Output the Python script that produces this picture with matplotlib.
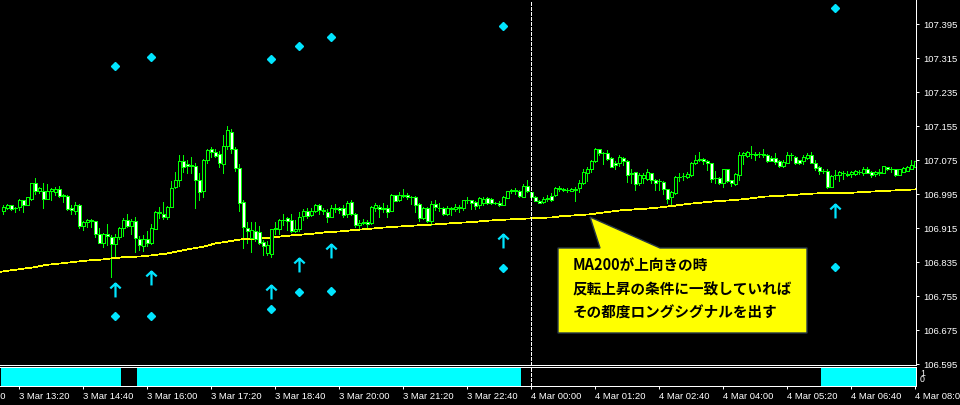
import numpy as np
import matplotlib
matplotlib.use("Agg")
import matplotlib.pyplot as plt
from matplotlib.path import Path
from matplotlib.patches import Polygon

plt.rcParams['font.family'] = ['Liberation Sans', 'Noto Sans CJK JP']

# USDJPY M5 candles (3 Mar 13:00 -> 4 Mar 08:00)
opens = [106.954, 106.962, 106.968, 106.961, 106.964, 106.980, 106.970, 106.984, 107.020, 107.001,
         107.001, 106.984, 107.001, 107.000, 107.007, 106.992, 106.990, 106.962, 106.956, 106.969,
         106.920, 106.928, 106.933, 106.931, 106.902, 106.880, 106.900, 106.895, 106.877, 106.893,
         106.914, 106.934, 106.920, 106.931, 106.889, 106.873, 106.889, 106.879, 106.913, 106.952,
         106.949, 106.942, 106.965, 107.011, 107.028, 107.072, 107.065, 107.062, 107.061, 107.029,
         107.003, 107.075, 107.100, 107.095, 107.089, 107.066, 107.108, 107.142, 107.102, 107.057,
         106.977, 106.915, 106.891, 106.907, 106.905, 106.882, 106.857, 106.855, 106.913, 106.913,
         106.934, 106.938, 106.934, 106.909, 106.912, 106.944, 106.955, 106.945, 106.954, 106.968,
         106.957, 106.953, 106.942, 106.959, 106.961, 106.962, 106.947, 106.976, 106.949, 106.921,
         106.927, 106.929, 106.926, 106.962, 106.965, 106.960, 106.962, 106.956, 106.992, 106.982,
         106.991, 106.993, 106.989, 106.987, 106.971, 106.938, 106.961, 106.932, 106.971, 106.963,
         106.962, 106.948, 106.960, 106.959, 106.963, 106.963, 106.980, 106.981, 106.976, 106.968,
         106.973, 106.986, 106.984, 106.975, 106.975, 106.970, 106.986, 107.002, 107.004, 107.003,
         106.989, 107.014, 107.000, 106.989, 106.979, 106.976, 106.984, 106.990, 106.993, 107.008,
         107.006, 107.005, 107.003, 107.006, 107.008, 107.020, 107.044, 107.055, 107.072, 107.100,
         107.092, 107.092, 107.080, 107.067, 107.067, 107.079, 107.073, 107.044, 107.046, 107.020,
         107.032, 107.031, 107.044, 107.029, 107.025, 107.024, 107.006, 106.989, 106.997, 107.036,
         107.037, 107.036, 107.039, 107.067, 107.076, 107.077, 107.073, 107.067, 107.032, 107.032,
         107.022, 107.053, 107.028, 107.018, 107.039, 107.087, 107.084, 107.089, 107.087, 107.089,
         107.090, 107.086, 107.079, 107.079, 107.073, 107.062, 107.069, 107.086, 107.081, 107.075,
         107.073, 107.080, 107.086, 107.069, 107.058, 107.050, 107.050, 107.012, 107.039, 107.040,
         107.045, 107.041, 107.041, 107.042, 107.047, 107.045, 107.053, 107.047, 107.041, 107.045,
         107.045, 107.058, 107.053, 107.053, 107.040, 107.047, 107.050, 107.055, 107.059]
highs = [106.968, 106.971, 106.970, 106.965, 106.983, 106.982, 106.989, 107.022, 107.032, 107.011,
         107.020, 107.018, 107.010, 107.012, 107.014, 106.995, 106.992, 106.968, 106.976, 106.971,
         106.931, 106.937, 106.937, 106.932, 106.916, 106.904, 106.924, 106.899, 106.902, 106.918,
         106.938, 106.948, 106.937, 106.942, 106.897, 106.898, 106.907, 106.924, 106.956, 106.965,
         106.976, 106.967, 107.026, 107.047, 107.086, 107.086, 107.075, 107.081, 107.069, 107.044,
         107.078, 107.100, 107.105, 107.100, 107.097, 107.134, 107.155, 107.147, 107.106, 107.066,
         106.981, 106.928, 106.929, 106.929, 106.920, 106.887, 106.885, 106.913, 106.928, 106.937,
         106.949, 106.942, 106.948, 106.934, 106.953, 106.960, 106.961, 106.963, 106.971, 106.971,
         106.962, 106.959, 106.968, 106.971, 106.965, 106.968, 106.978, 106.981, 106.951, 106.934,
         106.936, 106.934, 106.967, 106.973, 106.968, 106.973, 106.968, 106.995, 106.993, 107.000,
         107.007, 106.997, 106.990, 106.990, 106.975, 106.964, 106.964, 106.978, 106.982, 106.973,
         106.965, 106.967, 106.965, 106.971, 106.968, 106.982, 106.989, 106.982, 106.978, 106.989,
         106.987, 106.989, 106.986, 106.976, 106.978, 106.990, 107.003, 107.006, 107.008, 107.004,
         107.018, 107.028, 107.000, 106.990, 106.982, 106.987, 106.992, 106.997, 107.012, 107.014,
         107.008, 107.008, 107.009, 107.011, 107.028, 107.053, 107.059, 107.076, 107.103, 107.102,
         107.095, 107.098, 107.081, 107.072, 107.087, 107.081, 107.075, 107.055, 107.047, 107.044,
         107.044, 107.053, 107.045, 107.031, 107.031, 107.026, 107.007, 107.003, 107.037, 107.044,
         107.044, 107.047, 107.070, 107.087, 107.094, 107.079, 107.075, 107.069, 107.048, 107.034,
         107.055, 107.055, 107.029, 107.044, 107.095, 107.094, 107.097, 107.109, 107.094, 107.095,
         107.100, 107.089, 107.084, 107.091, 107.076, 107.075, 107.094, 107.091, 107.084, 107.076,
         107.087, 107.091, 107.094, 107.075, 107.061, 107.055, 107.055, 107.039, 107.051, 107.048,
         107.050, 107.050, 107.050, 107.051, 107.051, 107.058, 107.058, 107.050, 107.050, 107.053,
         107.062, 107.059, 107.058, 107.055, 107.055, 107.059, 107.062, 107.075, 107.073]
lows = [106.948, 106.959, 106.957, 106.953, 106.957, 106.953, 106.968, 106.982, 106.995, 106.998,
        106.963, 106.983, 106.981, 106.993, 106.989, 106.977, 106.957, 106.947, 106.949, 106.914,
        106.910, 106.917, 106.917, 106.895, 106.879, 106.871, 106.875, 106.800, 106.849, 106.890,
        106.896, 106.918, 106.902, 106.859, 106.863, 106.862, 106.873, 106.877, 106.912, 106.939,
        106.937, 106.937, 106.964, 107.008, 107.014, 107.047, 107.044, 107.044, 106.961, 106.981,
        106.987, 107.067, 107.083, 107.081, 107.059, 107.045, 107.102, 107.091, 107.050, 106.956,
        106.867, 106.879, 106.859, 106.885, 106.877, 106.851, 106.851, 106.846, 106.902, 106.902,
        106.922, 106.910, 106.906, 106.905, 106.909, 106.934, 106.938, 106.943, 106.953, 106.949,
        106.949, 106.930, 106.940, 106.953, 106.951, 106.942, 106.942, 106.946, 106.918, 106.910,
        106.924, 106.914, 106.924, 106.956, 106.942, 106.953, 106.940, 106.954, 106.978, 106.979,
        106.987, 106.984, 106.971, 106.953, 106.932, 106.937, 106.930, 106.921, 106.957, 106.956,
        106.945, 106.946, 106.946, 106.956, 106.953, 106.957, 106.975, 106.959, 106.960, 106.962,
        106.970, 106.971, 106.971, 106.971, 106.967, 106.968, 106.985, 106.997, 106.995, 106.989,
        106.987, 107.000, 106.987, 106.978, 106.973, 106.973, 106.979, 106.979, 106.990, 107.003,
        107.001, 107.000, 107.001, 106.979, 107.000, 107.018, 107.026, 107.047, 107.070, 107.087,
        107.066, 107.076, 107.058, 107.053, 107.061, 107.063, 107.024, 107.022, 107.004, 107.016,
        107.020, 107.028, 107.022, 107.004, 107.004, 106.995, 106.973, 106.970, 106.995, 107.026,
        107.028, 107.033, 107.037, 107.066, 107.072, 107.066, 107.051, 107.023, 107.020, 107.018,
        107.012, 107.024, 107.014, 107.016, 107.028, 107.066, 107.083, 107.080, 107.075, 107.083,
        107.083, 107.070, 107.072, 107.066, 107.059, 107.059, 107.067, 107.076, 107.066, 107.066,
        107.066, 107.078, 107.067, 107.051, 107.042, 107.044, 107.008, 107.011, 107.031, 107.025,
        107.031, 107.037, 107.034, 107.040, 107.042, 107.039, 107.044, 107.036, 107.037, 107.040,
        107.044, 107.051, 107.047, 107.037, 107.040, 107.046, 107.048, 107.054, 107.058]
closes = [106.964, 106.968, 106.960, 106.962, 106.981, 106.970, 106.987, 107.020, 107.003, 107.008,
          106.984, 107.001, 107.006, 107.007, 106.991, 106.990, 106.960, 106.957, 106.968, 106.920,
          106.928, 106.934, 106.931, 106.902, 106.880, 106.902, 106.896, 106.877, 106.895, 106.916,
          106.934, 106.920, 106.931, 106.891, 106.875, 106.889, 106.879, 106.914, 106.953, 106.950,
          106.940, 106.964, 107.008, 107.029, 107.072, 107.059, 107.062, 107.064, 107.028, 107.000,
          107.076, 107.098, 107.093, 107.085, 107.067, 107.108, 107.145, 107.100, 107.057, 106.975,
          106.918, 106.907, 106.910, 106.890, 106.880, 106.873, 106.875, 106.913, 106.916, 106.935,
          106.933, 106.931, 106.909, 106.913, 106.942, 106.955, 106.944, 106.954, 106.968, 106.957,
          106.954, 106.942, 106.961, 106.961, 106.957, 106.946, 106.975, 106.948, 106.921, 106.927,
          106.928, 106.924, 106.964, 106.968, 106.960, 106.961, 106.953, 106.992, 106.979, 106.992,
          106.992, 106.988, 106.988, 106.969, 106.938, 106.961, 106.932, 106.971, 106.964, 106.961,
          106.948, 106.962, 106.961, 106.964, 106.964, 106.981, 106.981, 106.975, 106.967, 106.986,
          106.984, 106.975, 106.973, 106.974, 106.969, 106.987, 107.002, 107.004, 107.003, 106.991,
          107.014, 107.003, 106.989, 106.979, 106.975, 106.984, 106.985, 106.982, 107.008, 107.007,
          107.004, 107.004, 107.007, 107.004, 107.020, 107.047, 107.055, 107.073, 107.102, 107.091,
          107.091, 107.078, 107.059, 107.064, 107.083, 107.072, 107.040, 107.043, 107.018, 107.040,
          107.039, 107.047, 107.028, 107.022, 107.026, 107.006, 106.984, 107.000, 107.034, 107.036,
          107.038, 107.041, 107.067, 107.075, 107.077, 107.072, 107.067, 107.031, 107.033, 107.022,
          107.053, 107.026, 107.020, 107.042, 107.086, 107.092, 107.094, 107.090, 107.088, 107.090,
          107.087, 107.073, 107.073, 107.071, 107.061, 107.071, 107.086, 107.087, 107.067, 107.069,
          107.083, 107.087, 107.069, 107.056, 107.050, 107.049, 107.012, 107.037, 107.039, 107.047,
          107.044, 107.040, 107.047, 107.050, 107.047, 107.055, 107.045, 107.040, 107.047, 107.046,
          107.061, 107.053, 107.054, 107.040, 107.053, 107.057, 107.058, 107.063, 107.072]

# MA200 (read at bar positions)
ma_idx = [-0.8, 4, 8, 10.4, 14.7, 18.4, 21.7, 24.9, 27.4, 30.9, 34.2, 37.4, 40.9, 44.2, 46.2,
          49.9, 53.2, 56.7, 59.2, 62.4, 65.7, 69.2, 72.4, 76.7, 80.7, 84.2, 87.4, 91.4, 94.9,
          98.2, 104.9, 108.9, 113.2, 117.4, 120.7, 123.9, 128.2, 132.4, 137.2, 139.7, 143.2,
          146.4, 148.9, 151.4, 154.7, 158.2, 161.4, 164.7, 168.2, 171.4, 174.7, 178.2, 181.4,
          185.4, 187.9, 190.4, 192.9, 196.4, 200.4, 204.7, 208.9, 212.2, 215.4, 219.7, 223.9, 228.2]
ma_val = [106.812, 106.818, 106.823, 106.828, 106.832, 106.836, 106.839, 106.841, 106.844, 106.847,
          106.848, 106.851, 106.855, 106.861, 106.865, 106.871, 106.879, 106.884, 106.888, 106.890,
          106.891, 106.895, 106.898, 106.901, 106.905, 106.907, 106.910, 106.913, 106.916, 106.918,
          106.922, 106.924, 106.927, 106.929, 106.932, 106.934, 106.936, 106.938, 106.940, 106.943,
          106.945, 106.947, 106.950, 106.953, 106.957, 106.959, 106.961, 106.964, 106.968, 106.972,
          106.975, 106.978, 106.980, 106.983, 106.986, 106.989, 106.990, 106.992, 106.995, 106.997,
          106.997, 106.998, 107.000, 107.002, 107.004, 107.006]

# long signals
sig_idx = [28, 37, 67, 74, 82, 125, 208]
arrow_val = [106.770, 106.797, 106.764, 106.828, 106.860, 106.884, 106.954]
low_dot = [106.708, 106.708, 106.724, 106.764, 106.767, 106.821, 106.823]
high_dot = [107.296, 107.317, 107.313, 107.343, 107.364, 107.390, 107.433]

# sub window state (1 = MA200 rising)
seg_start = [0, 30, 34, 130, 205]
seg_end = [29, 33, 129, 204, 228]
seg_val = [1, 0, 1, 0, 1]

price_ticks = [106.595, 106.675, 106.755, 106.835, 106.915, 106.995,
               107.075, 107.155, 107.235, 107.315, 107.395]
time_idx = [-12, 4, 20, 36, 52, 68, 84, 100, 116, 132, 148, 164, 180, 196, 212, 228]
time_labels = ["3 Mar 12:00", "3 Mar 13:20", "3 Mar 14:40", "3 Mar 16:00", "3 Mar 17:20",
               "3 Mar 18:40", "3 Mar 20:00", "3 Mar 21:20", "3 Mar 22:40", "4 Mar 00:00",
               "4 Mar 01:20", "4 Mar 02:40", "4 Mar 04:00", "4 Mar 05:20", "4 Mar 06:40",
               "4 Mar 08:00"]
day_break = 132

note = ["MA200が上向きの時", "反転上昇の条件に一致していれば", "その都度ロングシグナルを出す"]

W, H = 960, 405
fig = plt.figure(figsize=(W / 100, H / 100), dpi=100, facecolor="black")
ax = fig.add_axes([0, (H - 365) / H, 916 / W, 365 / H], facecolor="black")
ax2 = fig.add_axes([0, (H - 386) / H, 916 / W, 19 / H], facecolor="black")

green = "#00ff00"
aqua = "#00ffff"
sig_col = "#00e5ff"
lw1 = 0.72
tfont = 6.8

o = np.array(opens)
c = np.array(closes)
x = np.arange(len(o))
ax.vlines(x, lows, highs, color=green, lw=lw1, zorder=2, antialiased=False)
fill = np.where(c >= o, "black", "white")
ax.bar(x, np.abs(c - o), bottom=np.minimum(o, c), width=0.75, color=fill,
       edgecolor=green, linewidth=lw1, zorder=3, antialiased=False)

ax.plot(ma_idx, ma_val, color="#ffff00", lw=0.55, zorder=2, antialiased=False)

arrow = Path([(0, -1), (0, 1), (-0.75, 0.3), (0, 1), (0.75, 0.3)],
             [Path.MOVETO, Path.LINETO, Path.MOVETO, Path.LINETO, Path.LINETO])
ax.plot(sig_idx, arrow_val, ls="none", marker=arrow, ms=10, mew=1.6,
        mec=sig_col, mfc="none", zorder=4)
ax.plot(sig_idx, low_dot, ls="none", marker="D", ms=4, color=sig_col, zorder=4)
ax.plot(sig_idx, high_dot, ls="none", marker="D", ms=4, color=sig_col, zorder=4)

ax.set_xlim(-0.825, 228.175)
ax.set_ylim(107.4515 - 365 * 0.0023529, 107.4515)
ax2.set_xlim(ax.get_xlim())
ax2.set_ylim(0, 1)

for a in (ax, ax2):
    a.axvline(day_break, color="white", lw=lw1, dashes=(3, 2), zorder=5, antialiased=False)
    for s in ("top", "left"):
        a.spines[s].set_visible(False)
    for s in ("bottom", "right"):
        a.spines[s].set_color("white")
        a.spines[s].set_linewidth(lw1)
ax2.spines["top"].set_visible(True)
ax2.spines["top"].set_color("white")
ax2.spines["top"].set_linewidth(lw1)

ax.set_xticks([])
ax.yaxis.tick_right()
ax.set_yticks(price_ticks)
ax.set_yticklabels([f"{p:.3f}" for p in price_ticks])
ax.tick_params(axis="y", colors="white", length=2, width=lw1, pad=3, labelsize=tfont)

for s, e, v in zip(seg_start, seg_end, seg_val):
    idx = np.arange(s, e + 1)
    ax2.bar(idx, [v] * len(idx), width=1.0, color=aqua, linewidth=0, zorder=1)
ax2.set_yticks([])
ax2.set_xticks([t for t in time_idx if t >= 0])
ax2.set_xticklabels([])
ax2.tick_params(axis="x", colors="white", length=2.2, width=lw1)
for t, lab in zip(time_idx, time_labels):
    ax2.text(t, -0.55, lab, transform=ax2.get_xaxis_transform(), ha="left",
             va="center", color="white", fontsize=tfont)
fig.text(920 / W, 1 - 373 / H, "1", color="white", fontsize=6.3, va="center")
fig.text(920 / W, 1 - 380 / H, "0", color="white", fontsize=6.3, va="center")


def px(xp, yp):
    return (xp / 916, 1 - yp / 365)


shape = [px(558, 248), px(600, 248), px(590, 217), px(660, 248),
         px(807, 248), px(807, 333), px(558, 333)]
ax.add_patch(Polygon(shape, closed=True, transform=ax.transAxes, facecolor="#ffff00",
                     edgecolor="#263645", lw=1.0, zorder=6))
for k, line in enumerate(note):
    xx, yy = px(573, 265 + 24 * k)
    ax.text(xx, yy, line, transform=ax.transAxes, ha="left", va="center",
            fontsize=10.5, fontweight="bold", color="black",
            family=["Noto Sans CJK JP", "DejaVu Sans"], zorder=7)

fig.savefig("out.png", dpi=100, facecolor="black")
